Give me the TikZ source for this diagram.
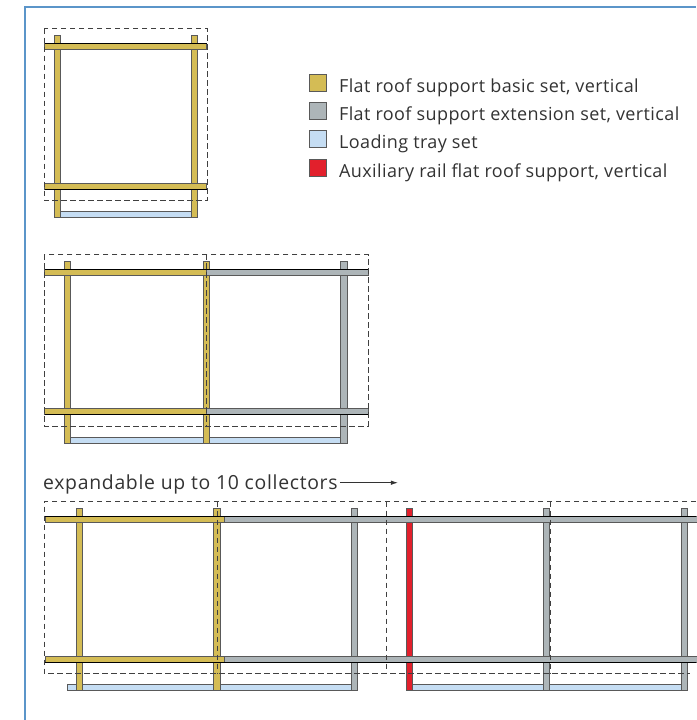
\documentclass[tikz,border=0pt]{standalone}
\usepackage{fontspec}
\setmainfont{Open Sans}
\newfontfamily\legendfont[LetterSpace=2.2]{Open Sans}
\newfontfamily\expandfont[LetterSpace=3.6]{Open Sans}
\usepackage{tikz}
\usetikzlibrary{positioning,arrows.meta}
\definecolor{basicset}{HTML}{D4BC55}
\definecolor{extset}{HTML}{ADB5B8}
\definecolor{traycol}{HTML}{C5DDF3}
\definecolor{auxcol}{HTML}{E2202C}
\definecolor{framecol}{HTML}{5B95C9}
\definecolor{textcol}{HTML}{333333}
\tikzset{
  part/.style={draw=black!65, line width=0.8pt},
  edgeline/.style={black, line width=0.9pt},
  cutline/.style={black!75, line width=0.7pt, dash pattern=on 5.5pt off 3.5pt},
  swatch/.style={part, minimum size=17pt, inner sep=0pt},
  legendtext/.style={text=textcol, font=\legendfont\fontsize{18}{20}\selectfont, inner sep=0pt, text height=10pt, text depth=3pt, yshift=-6.2pt},
  expandtext/.style={text=textcol, font=\expandfont\fontsize{19.4}{20}\selectfont, inner sep=0pt, text height=12.6pt, text depth=0pt},
}
\begin{document}
\begin{tikzpicture}[x=1pt, y=-1pt]
  \useasboundingbox (0,0) rectangle (696,720);
  \fill[white] (0,0) rectangle (696,720);
  \draw[framecol, line width=1.4pt] (25,720) -- (25,7) -- (696,7);

  % legend
  \node[swatch, fill=basicset] (basic) at (317.5,82.5) {};
  \node[swatch, fill=extset, below = 10.2pt of basic] (ext) {};
  \node[swatch, fill=traycol, below = 10.2pt of ext] (tray) {};
  \node[swatch, fill=auxcol, below = 11.2pt of tray] (aux) {};
  \node[legendtext, right = 12.5pt of basic] (basictext) {Flat roof support basic set, vertical};
  \node[legendtext, right = 12.5pt of ext] (exttext) {Flat roof support extension set, vertical};
  \node[legendtext, right = 12.5pt of tray] (traytext) {Loading tray set};
  \node[legendtext, right = 12.5pt of aux] (auxtext) {Auxiliary rail flat roof support, vertical};

  % one collector
  \draw[part, fill=traycol] (60,211) rectangle (191,217.5);
  \foreach \x in {54,191}
    \draw[part, fill=basicset] (\x,35) rectangle (\x+6.3,217.5);
  \foreach \y in {43,183.5}
    \draw[part, fill=basicset] (44.5,\y) rectangle (206.5,\y+6);
  \draw[edgeline] (44.5,43) -- (206.5,43);
  \draw[edgeline] (44.5,189.5) -- (206.5,189.5);
  \draw[cutline] (44,28.5) rectangle (207,200.5);

  % two collectors
  \draw[part, fill=traycol] (70,437) rectangle (341,443);
  \foreach \x/\c in {64/basicset,203.3/basicset,340.7/extset}
    \draw[part, fill=\c] (\x,261) rectangle (\x+6.3,443);
  \foreach \y in {269.3,408.7} {
    \draw[part, fill=basicset] (44.5,\y) rectangle (206,\y+6);
    \draw[part, fill=extset] (206,\y) rectangle (368,\y+6);
  }
  \draw[edgeline] (44.5,269.3) -- (368,269.3);
  \draw[edgeline] (44.5,414.7) -- (368,414.7);
  \draw[cutline] (44,254.3) rectangle (368,426);
  \draw[cutline] (206,254.3) -- (206,426);

  % expandable row
  \node[expandtext, anchor=base west] (expand) at (43,489) {expandable up to 10 collectors};
  \coordinate[right = 60pt of expand.east] (expandend);
  \draw[textcol, line width=0.6pt, -{Latex[length=7pt,width=4.5pt]}] (expand.east) ++(2,0) -- (expandend);

  \draw[part, fill=traycol] (67,684.3) rectangle (351,690);
  \draw[part, fill=traycol] (412.5,684.3) rectangle (681.3,690);
  \foreach \x/\c in {76/basicset,213.7/basicset,351/extset,406/auxcol,543.3/extset,681.3/extset}
    \draw[part, fill=\c] (\x,508.3) rectangle (\x+6.3,690);
  \foreach \y in {516.7,656} {
    \draw[part, fill=extset] (224,\y) rectangle (700,\y+6);
    \draw[part, fill=basicset] (45,\y) rectangle (224,\y+6);
  }
  \draw[edgeline] (45,516.7) -- (696,516.7);
  \draw[edgeline] (45,662) -- (696,662);
  \draw[cutline] (696,501.7) -- (44,501.7) -- (44,673.3) -- (690,673.3);
  \foreach \x in {217,386,550}
    \draw[cutline] (\x,501.7) -- (\x,673.3);
\end{tikzpicture}
\end{document}
